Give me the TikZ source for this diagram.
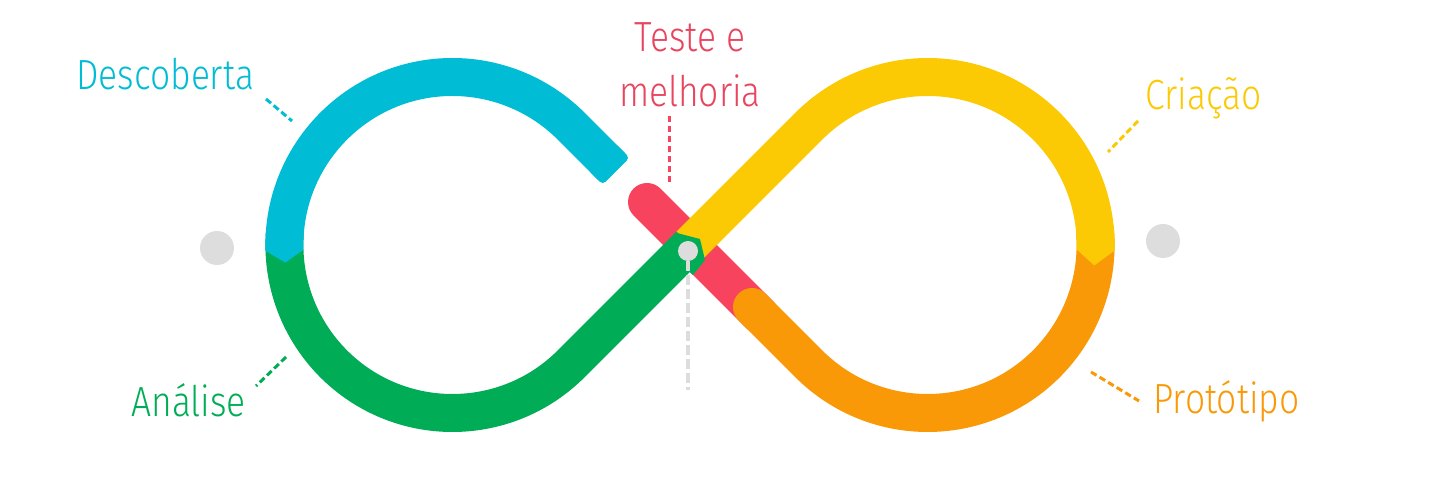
\documentclass[tikz,border=0pt]{standalone}
\usepackage{fontspec}
\setmainfont{Fira Sans Light}[FakeStretch=0.84]
\usetikzlibrary{calc}
\definecolor{discoverblue}{HTML}{00BCD4}
\definecolor{testred}{HTML}{F8435F}
\definecolor{testtext}{HTML}{E8455F}
\definecolor{createyellow}{HTML}{FBCA05}
\definecolor{protoorange}{HTML}{F99908}
\definecolor{analysisgreen}{HTML}{00AD56}
\definecolor{dotgrey}{HTML}{DDDDDD}

\begin{document}
\begin{tikzpicture}[x=0.02cm, y=0.02cm,
  band/.style={line width=0.76cm},
  leader/.style={line width=1.7pt, dash pattern=on 0.13cm off 0.07cm},
  stage/.style={inner sep=0pt, font=\fontsize{24}{31.5}\selectfont},
  greydot/.style={circle, fill=dotgrey, inner sep=0pt}]
\useasboundingbox (0,0) rectangle (1440,486);
\coordinate (cross) at (690,241);
\coordinate (lc) at (452.4,241);
\coordinate (rc) at (927.6,241);

\draw[band, testred, line cap=round] ($(cross)+(-43,43)$) -- ($(cross)+(70,-70)$);
\draw[band, protoorange, line cap=round] ($(cross)+(62,-62)$) -- ($(rc)+(225:168)$) arc (225:365:168);
\draw[band, analysisgreen] (cross) -- ($(lc)+(-45:168)$) arc (-45:-184:168);
\draw[band, discoverblue] ($(lc)+(182:168)$) arc (182:45:168) -- ($(lc)+(45:168)+(40,-40)$);
\fill[discoverblue, rounded corners=0.08cm] ($(lc)+(45:168)+(30,-30)+(-13.4,-13.4)$) -- ($(lc)+(45:168)+(45,-45)+(-13.4,-13.4)$)
  -- ($(lc)+(45:168)+(45,-45)+(13.4,13.4)$) -- ($(lc)+(45:168)+(30,-30)+(13.4,13.4)$) -- cycle;
\fill[discoverblue] ($(lc)+(181.8:149)$) -- ($(lc)+(181.8:187)$) -- ($(lc)+(186:168)$) -- cycle;
\draw[band, createyellow] ($(rc)+(-2:168)$) arc (-2:135:168) -- (cross);
\fill[createyellow] ($(rc)+(-1.7:149)$) -- ($(rc)+(-1.7:187)$) -- ($(rc)+(-7:168)$) -- cycle;
\fill[analysisgreen] (663,239) -- (677,253) -- (700,247) -- (705,226) -- (693,211) -- cycle;

\node[greydot, minimum size=0.4cm] (hub) at (688,235) {};
\coordinate (hubend) at (688,96);
\draw[dotgrey, line width=1.9pt, dash pattern=on 0.2cm off 0.08cm] (hub) -- (hubend);
\node[greydot, minimum size=0.68cm] (leftdot) at (217,238) {};
\node[greydot, minimum size=0.68cm] (rightdot) at (1163,245) {};

\node[stage, text=discoverblue, anchor=base west] (descoberta) at (76,396) {Descoberta};
\node[stage, text=testtext, align=center] (teste) at (690,421) {Teste e\\melhoria};
\node[stage, text=createyellow, anchor=base west] (criacao) at (1145,376) {Criação};
\node[stage, text=analysisgreen, anchor=base west] (analise) at (131,69) {Análise};
\node[stage, text=protoorange, anchor=base west] (prototipo) at (1153,72) {Protótipo};

\coordinate (descA) at (266,387);
\coordinate (descB) at (292,365);
\coordinate (testeA) at (669,370);
\coordinate (testeB) at (669,301);
\coordinate (criaA) at (1138,365);
\coordinate (criaB) at (1108,334);
\coordinate (analA) at (286,129);
\coordinate (analB) at (256,100);
\coordinate (protoA) at (1091,114);
\coordinate (protoB) at (1139,85);
\draw[leader, discoverblue] (descA) -- (descB);
\draw[leader, testred] (testeA) -- (testeB);
\draw[leader, createyellow] (criaA) -- (criaB);
\draw[leader, analysisgreen] (analA) -- (analB);
\draw[leader, protoorange] (protoA) -- (protoB);
\end{tikzpicture}
\end{document}
